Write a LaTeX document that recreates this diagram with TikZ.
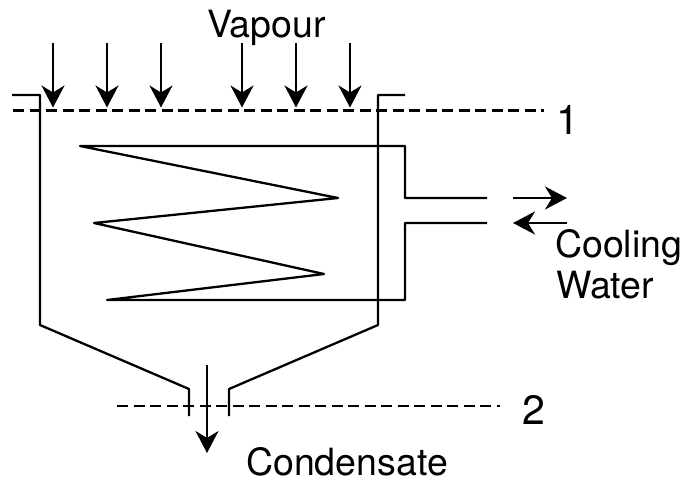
\documentclass[tikz,border=0pt]{standalone}
\usepackage{fontspec}
\setmainfont{TeX Gyre Heros}
\usetikzlibrary{arrows.meta}
\tikzset{
  ln/.style={line width=2.3pt,line join=round,black},
  dsh/.style={line width=2.3pt,black,dash pattern=on 11pt off 5.5pt},
  flow/.style={line width=2.3pt,black,-{Stealth[length=22pt,width=23pt,inset=7pt]}},
  lbl/.style={inner sep=0pt,anchor=base west,font=\fontsize{37.5pt}{37.5pt}\selectfont},
  num/.style={inner sep=0pt,anchor=base west,font=\fontsize{41pt}{41pt}\selectfont}
}
\begin{document}
\begin{tikzpicture}[x=1pt,y=-1pt]
\useasboundingbox (0,0) rectangle (684,480);
% vessel
\draw[ln] (12,95) -- (40,95) -- (40,325) -- (189,389) -- (189,416);
\draw[ln] (405,95) -- (378,95) -- (378,325) -- (229,389) -- (229,416);
% section lines
\draw[dsh] (13,110.5) -- (544,110.5);
\draw[dsh] (117,406) -- (500,406);
% coil
\draw[ln] (487,198) -- (405,198) -- (405,146) -- (80,146) -- (338,198) -- (94,223) -- (324,274) -- (107,300) -- (405,300) -- (405,223) -- (487,223);
% vapour arrows
\foreach \x/\n in {53/a,107/b,161/c,242/d,296/e,350/f}{
  \coordinate (\n s) at (\x,43);
  \coordinate (\n e) at (\x,107.5);
  \draw[flow] (\n s) -- (\n e);
}
% water arrows
\coordinate (w1) at (513,198); \coordinate (w2) at (567,198);
\coordinate (w3) at (567,223); \coordinate (w4) at (513,223);
\draw[flow] (w1) -- (w2);
\draw[flow] (w3) -- (w4);
% condensate arrow
\coordinate (c1) at (207,365); \coordinate (c2) at (207,453);
\draw[flow] (c1) -- (c2);
% labels
\node[lbl] (vapour) at (207,37) {Vapour};
\node[num] (one) at (556,134) {1};
\node[lbl] (cooling) at (555,257) {Cooling};
\node[lbl] (water) at (556,298) {Water};
\node[num] (two) at (522,424) {2};
\node[lbl] (cond) at (246,475) {Condensate};
\end{tikzpicture}
\end{document}
